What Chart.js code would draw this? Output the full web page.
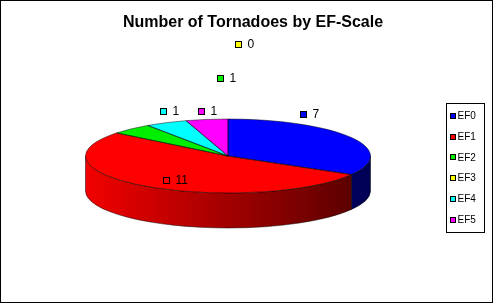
<!DOCTYPE html>
<html>
<head>
<meta charset="utf-8">
<script src="https://cdn.jsdelivr.net/npm/chart.js@4.4.1/dist/chart.umd.min.js"></script>
<style>
body{margin:0;background:#fff;}
#chart{display:block;}
</style>
</head>
<body>
<canvas id="chart" width="494" height="304"></canvas>
<script>
// tornado counts per EF scale
var categories = ['EF0', 'EF1', 'EF2', 'EF3', 'EF4', 'EF5'];
var counts = [7, 11, 1, 0, 1, 1];
var sliceColors = ['#0000ff', '#ff0000', '#00ee00', '#ffff00', '#00ffff', '#ff00ff'];
var chartTitle = 'Number of Tornadoes by EF-Scale';

// where the flattened pie sits on the page
var pie3d = {cx: 228, cy: 156, rx: 142.5, ry: 37, depth: 35};
// excel "best fit" label spots, relative to the pie centre
var labelSpots = [[72, -42], [-65, 24], [-11, -78], [7, -112], [-68, -45], [-30, -45]];

function shade(hex, f){
    var n = parseInt(hex.slice(1), 16);
    var r = Math.round(((n >> 16) & 255) * f);
    var g = Math.round(((n >> 8) & 255) * f);
    var b = Math.round((n & 255) * f);
    return 'rgb(' + r + ',' + g + ',' + b + ')';
}

var tiltPlugin = {
    id: 'tilt',
    beforeDatasetsDraw: function(chart){
        var ctx = chart.ctx;
        var arcs = chart.getDatasetMeta(0).data;
        var p = pie3d;
        // side wall, only the front half shows
        ctx.save();
        arcs.forEach(function(arc, i){
            var s = Math.max(arc.startAngle, 0);
            var e = Math.min(arc.endAngle, Math.PI);
            if (e <= s) return;
            var g = ctx.createLinearGradient(p.cx - p.rx, 0, p.cx + p.rx, 0);
            g.addColorStop(0, shade(sliceColors[i], 0.95));
            g.addColorStop(1, shade(sliceColors[i], 0.32));
            ctx.beginPath();
            ctx.ellipse(p.cx, p.cy, p.rx, p.ry, 0, s, e);
            ctx.ellipse(p.cx, p.cy + p.depth, p.rx, p.ry, 0, e, s, true);
            ctx.closePath();
            ctx.fillStyle = g;
            ctx.fill();
            ctx.strokeStyle = 'rgba(0,0,0,0.6)';
            ctx.lineWidth = 0.8;
            ctx.stroke();
        });
        ctx.restore();
        // squash the library's pie onto the top face
        var a0 = arcs[0];
        ctx.save();
        ctx.translate(p.cx, p.cy);
        ctx.scale(p.rx / a0.outerRadius, p.ry / a0.outerRadius);
        ctx.translate(-a0.x, -a0.y);
    },
    afterDatasetsDraw: function(chart){
        var ctx = chart.ctx;
        var arcs = chart.getDatasetMeta(0).data;
        var p = pie3d;
        ctx.restore();

        // slice outlines on the top face
        ctx.save();
        ctx.strokeStyle = 'rgba(0,0,0,0.6)';
        ctx.lineWidth = 0.8;
        arcs.forEach(function(arc){
            if (arc.endAngle - arc.startAngle <= 0) return;
            ctx.beginPath();
            ctx.moveTo(p.cx, p.cy);
            ctx.ellipse(p.cx, p.cy, p.rx, p.ry, 0, arc.startAngle, arc.endAngle);
            ctx.closePath();
            ctx.stroke();
        });

        // data labels
        ctx.font = '12px Arial';
        ctx.textBaseline = 'middle';
        ctx.textAlign = 'left';
        ctx.lineWidth = 1;
        counts.forEach(function(v, i){
            var x = Math.round(p.cx + labelSpots[i][0]);
            var y = Math.round(p.cy + labelSpots[i][1]);
            ctx.fillStyle = sliceColors[i];
            ctx.fillRect(x, y - 3, 7, 7);
            ctx.strokeStyle = '#000';
            ctx.strokeRect(x + 0.5, y - 2.5, 6, 6);
            ctx.fillStyle = '#000';
            ctx.fillText(String(v), x + 12.5, y + 0.5);
        });
        ctx.restore();
    },
    afterDraw: function(chart){
        var ctx = chart.ctx;
        ctx.save();
        // legend box
        ctx.strokeStyle = '#000';
        ctx.lineWidth = 1;
        ctx.strokeRect(446.5, 103.5, 38, 129);
        ctx.font = '10px Arial';
        ctx.textBaseline = 'middle';
        categories.forEach(function(c, i){
            var y = 115.7 + i * 20.8;
            ctx.fillStyle = sliceColors[i];
            ctx.fillRect(450, Math.round(y) - 3, 6, 6);
            ctx.strokeStyle = '#000';
            ctx.strokeRect(450.5, Math.round(y) - 2.5, 5, 5);
            ctx.fillStyle = '#000';
            ctx.fillText(c, 457.5, y + 0.5);
        });
        // outer frame
        ctx.strokeRect(0.5, 0.5, 492, 302);
        ctx.restore();
    }
};

var ctx = document.getElementById('chart').getContext('2d');
var myChart = new Chart(ctx, {
    type: 'pie',
    data: {
        labels: categories,
        datasets: [{
            data: counts,
            backgroundColor: sliceColors,
            borderWidth: 0,
            clip: false
        }]
    },
    options: {
        responsive: false,
        devicePixelRatio: 1,
        animation: false,
        events: [],
        layout: {padding: {left: 12}},
        plugins: {
            legend: {display: false},
            tooltip: {enabled: false},
            title: {
                display: true,
                text: chartTitle,
                color: '#000',
                font: {family: 'Arial', size: 16, weight: 'bold'},
                padding: {top: 13, bottom: 10}
            }
        }
    },
    plugins: [tiltPlugin]
});
</script>
</body>
</html>
